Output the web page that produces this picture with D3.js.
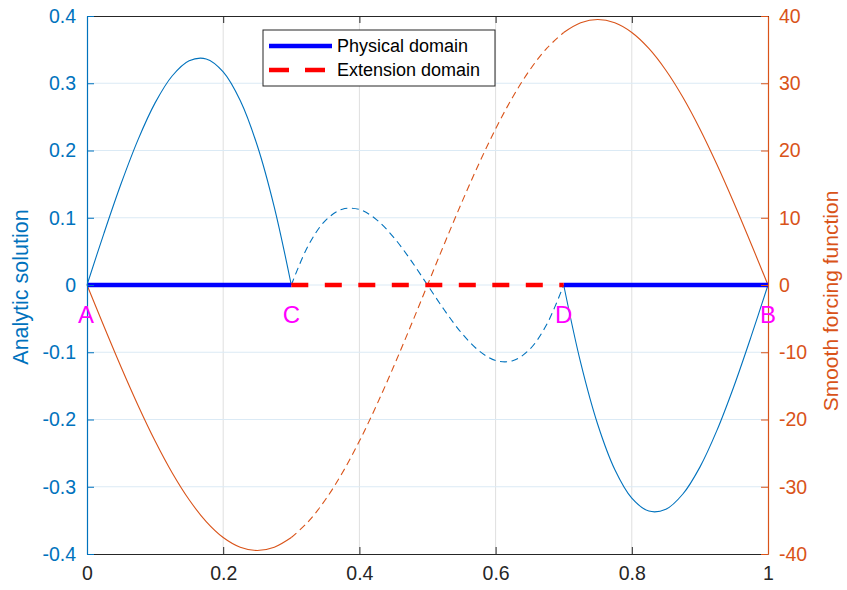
<!DOCTYPE html>
<html>
<head>
<meta charset="utf-8">
<script src="https://cdn.jsdelivr.net/npm/d3@7"></script>
<style>
  html, body { margin: 0; padding: 0; background: #fff; }
  svg { display: block; font-family: "Liberation Sans", Arial, Helvetica, sans-serif; }
</style>
</head>
<body>
<svg id="chart" width="847" height="590"></svg>
<script>
// ---------- data ----------
const xSamples = [0, 0.025, 0.05, 0.075, 0.1, 0.125, 0.15, 0.175, 0.2, 0.225, 0.25, 0.275, 0.3,
  0.325, 0.35, 0.375, 0.4, 0.425, 0.45, 0.475, 0.5, 0.525, 0.55, 0.575, 0.6, 0.625, 0.65, 0.675, 0.7,
  0.725, 0.75, 0.775, 0.8, 0.825, 0.85, 0.875, 0.9, 0.925, 0.95, 0.975, 1];
const analyticSolution = [0, 0.0772, 0.1505, 0.2162, 0.2708, 0.3108, 0.3335, 0.3362, 0.3170, 0.2744, 0.2075, 0.1159, 0,
  0.0588, 0.0957, 0.1127, 0.1123, 0.0973, 0.0713, 0.0376, 0, -0.0376, -0.0713, -0.0973, -0.1123, -0.1127, -0.0957, -0.0588, 0,
  -0.1159, -0.2075, -0.2744, -0.3170, -0.3362, -0.3335, -0.3108, -0.2708, -0.2162, -0.1505, -0.0772, 0];
const forcingFunction = [0, -6.18, -12.20, -17.92, -23.21, -27.92, -31.94, -35.18, -37.55, -38.99, -39.48, -38.99, -37.55,
  -35.18, -31.94, -27.92, -23.21, -17.92, -12.20, -6.18, 0, 6.18, 12.20, 17.92, 23.21, 27.92, 31.94, 35.18, 37.55,
  38.99, 39.48, 38.99, 37.55, 35.18, 31.94, 27.92, 23.21, 17.92, 12.20, 6.18, 0];
const physicalDomains = [[0, 0.3], [0.7, 1]];
const extensionDomain = [0.3, 0.7];
const pointNames = ["A", "C", "D", "B"];
const pointPositions = [0, 0.3, 0.7, 1];
const xTicks = [0, 0.2, 0.4, 0.6, 0.8, 1];
const xTickLabels = ["0", "0.2", "0.4", "0.6", "0.8", "1"];
const leftTicks = [-0.4, -0.3, -0.2, -0.1, 0, 0.1, 0.2, 0.3, 0.4];
const leftTickLabels = ["-0.4", "-0.3", "-0.2", "-0.1", "0", "0.1", "0.2", "0.3", "0.4"];
const rightTicks = [-40, -30, -20, -10, 0, 10, 20, 30, 40];
const rightTickLabels = ["-40", "-30", "-20", "-10", "0", "10", "20", "30", "40"];
const legendLabels = ["Physical domain", "Extension domain"];
const leftLabel = "Analytic solution";
const rightLabel = "Smooth forcing function";

// ---------- layout ----------
const L = 87, R = 768, T = 16, B = 554;
const BLUE = "#0072BD", ORANGE = "#D95319", DARK = "#262626";

const svg = d3.select("#chart");
const x = d3.scaleLinear().domain([0, 1]).range([L, R]);
const yL = d3.scaleLinear().domain([-0.4, 0.4]).range([B, T]);
const yR = d3.scaleLinear().domain([-40, 40]).range([B, T]);

// grid
const grid = svg.append("g");
grid.selectAll("line.vg").data(xTicks.slice(1, -1)).enter().append("line")
  .attr("x1", d => x(d)).attr("x2", d => x(d)).attr("y1", T).attr("y2", B)
  .attr("stroke", "#DFDFDF").attr("stroke-width", 1);
grid.selectAll("line.hg").data(leftTicks.slice(1, -1)).enter().append("line")
  .attr("x1", L).attr("x2", R).attr("y1", d => yL(d)).attr("y2", d => yL(d))
  .attr("stroke", "#DBEAF5").attr("stroke-width", 1);

// curves
const idx = d3.range(xSamples.length);
function seg(lo, hi) { return idx.filter(i => xSamples[i] >= lo - 1e-9 && xSamples[i] <= hi + 1e-9); }
const lineU = d3.line().x(i => x(xSamples[i])).y(i => yL(analyticSolution[i])).curve(d3.curveCatmullRom.alpha(0.5));
const lineF = d3.line().x(i => x(xSamples[i])).y(i => yR(forcingFunction[i])).curve(d3.curveCatmullRom.alpha(0.5));

const segments = [
  { range: physicalDomains[0], dash: null },
  { range: extensionDomain, dash: "7,4.5" },
  { range: physicalDomains[1], dash: null }
];
segments.forEach(s => {
  const ids = seg(s.range[0], s.range[1]);
  svg.append("path").attr("d", lineU(ids)).attr("fill", "none")
    .attr("stroke", BLUE).attr("stroke-width", 1.1).attr("stroke-dasharray", s.dash);
  svg.append("path").attr("d", lineF(ids)).attr("fill", "none")
    .attr("stroke", ORANGE).attr("stroke-width", 1.1).attr("stroke-dasharray", s.dash);
});

// domain indicator lines
physicalDomains.forEach(d => {
  svg.append("line").attr("x1", x(d[0])).attr("x2", x(d[1])).attr("y1", yL(0)).attr("y2", yL(0))
    .attr("stroke", "#0000FF").attr("stroke-width", 4.5);
});
svg.append("line").attr("x1", x(extensionDomain[0])).attr("x2", x(extensionDomain[1]))
  .attr("y1", yL(0)).attr("y2", yL(0))
  .attr("stroke", "#FF0000").attr("stroke-width", 4.5).attr("stroke-dasharray", "17,16.5");

// axes
function styleAxis(g, color, fontSize) {
  g.select(".domain").attr("stroke", color).attr("stroke-width", 1.2);
  g.selectAll(".tick line").attr("stroke", color).attr("stroke-width", 1);
  g.selectAll(".tick text").attr("fill", color).attr("font-size", fontSize)
    .attr("font-family", "'Liberation Sans', Arial, sans-serif");
}
const gB = svg.append("g").attr("transform", `translate(0,${B})`)
  .call(d3.axisBottom(x).tickValues(xTicks).tickFormat((d, i) => xTickLabels[i]).tickSizeInner(-7).tickSizeOuter(0).tickPadding(12));
styleAxis(gB, DARK, 19.5);
const gT = svg.append("g").attr("transform", `translate(0,${T})`)
  .call(d3.axisTop(x).tickValues(xTicks).tickFormat("").tickSizeInner(-7).tickSizeOuter(0));
styleAxis(gT, DARK, 19.5);
const gL = svg.append("g").attr("transform", `translate(${L},0)`)
  .call(d3.axisLeft(yL).tickValues(leftTicks).tickFormat((d, i) => leftTickLabels[i]).tickSizeInner(-7).tickSizeOuter(0).tickPadding(11));
styleAxis(gL, BLUE, 19.5);
const gR = svg.append("g").attr("transform", `translate(${R},0)`)
  .call(d3.axisRight(yR).tickValues(rightTicks).tickFormat((d, i) => rightTickLabels[i]).tickSizeInner(-7).tickSizeOuter(0).tickPadding(11));
styleAxis(gR, ORANGE, 19.5);

// axis labels
svg.append("text").attr("transform", `translate(28,${(T + B) / 2 + 2}) rotate(-90)`)
  .attr("text-anchor", "middle").attr("fill", BLUE).attr("font-size", 21.5).text(leftLabel);
svg.append("text").attr("transform", `translate(838,${(T + B) / 2 + 16}) rotate(-90)`)
  .attr("text-anchor", "middle").attr("fill", ORANGE).attr("font-size", 21).text(rightLabel);

// point labels
svg.selectAll("text.pt").data(pointNames).enter().append("text")
  .attr("x", (d, i) => x(pointPositions[i]) - (i === 0 ? 1 : 0))
  .attr("y", 323).attr("text-anchor", "middle").attr("fill", "#FF00FF")
  .attr("font-size", 24).text(d => d);

// legend
const lg = svg.append("g");
lg.append("rect").attr("x", 263).attr("y", 30).attr("width", 232).attr("height", 56)
  .attr("fill", "#fff").attr("stroke", DARK).attr("stroke-width", 1);
const legendStyles = [{ color: "#0000FF", dash: null }, { color: "#FF0000", dash: "20,16" }];
legendLabels.forEach((lab, i) => {
  const yy = 46 + i * 24;
  lg.append("line").attr("x1", 269).attr("x2", 332).attr("y1", yy).attr("y2", yy)
    .attr("stroke", legendStyles[i].color).attr("stroke-width", 4.5)
    .attr("stroke-dasharray", legendStyles[i].dash);
  lg.append("text").attr("x", 337).attr("y", yy).attr("dy", "0.35em")
    .attr("fill", "#000").attr("font-size", 18).text(lab);
});
</script>
</body>
</html>
